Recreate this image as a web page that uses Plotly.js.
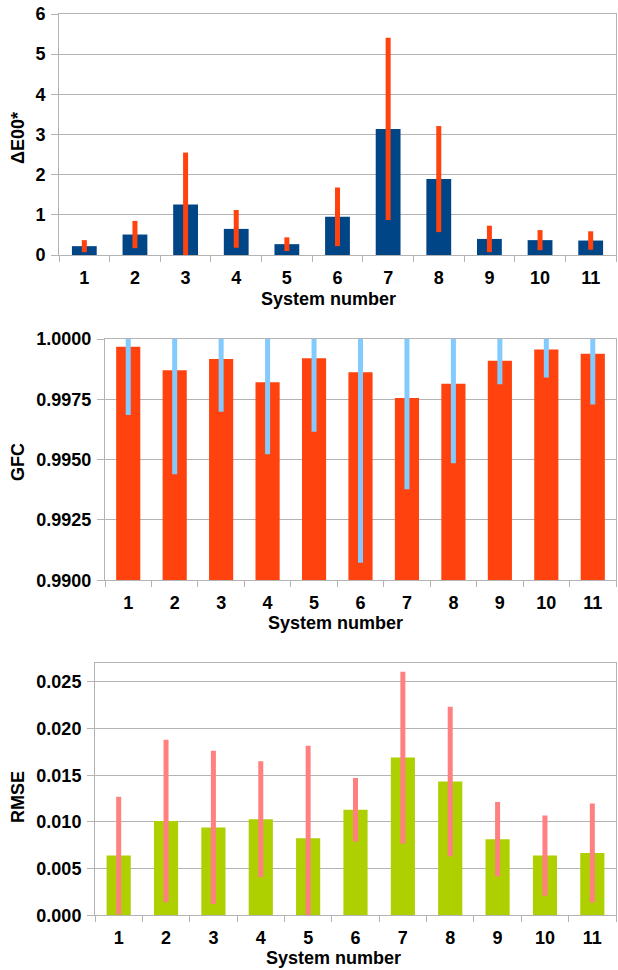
<!DOCTYPE html>
<html>
<head>
<meta charset="utf-8">
<script src="https://cdn.plot.ly/plotly-3.0.1.min.js"></script>
<style>
  html, body { margin: 0; padding: 0; background: #fff; }
  #chart { width: 618px; height: 970px; }
</style>
</head>
<body>
<div id="chart"></div>
<script>
const systems = ['1','2','3','4','5','6','7','8','9','10','11'];

const deltaE = [0.22, 0.51, 1.26, 0.65, 0.27, 0.95, 3.14, 1.89, 0.40, 0.37, 0.36];
const deltaEErr = [0.15, 0.34, 1.29, 0.47, 0.17, 0.73, 2.27, 1.32, 0.33, 0.25, 0.23];

const gfc = [0.99968, 0.99870, 0.99917, 0.99821, 0.99920, 0.99862, 0.99755, 0.99815, 0.99910, 0.99957, 0.99939];
const gfcErr = [0.00283, 0.00431, 0.00218, 0.00299, 0.00304, 0.00789, 0.00378, 0.00330, 0.00098, 0.00117, 0.00210];

const rmse = [0.0064, 0.0101, 0.00942, 0.0103, 0.00826, 0.0113, 0.0169, 0.01434, 0.00815, 0.0064, 0.00668];
const rmseErr = [0.0063, 0.0087, 0.0082, 0.0062, 0.0099, 0.0034, 0.0092, 0.0080, 0.0040, 0.0043, 0.0053];

const yTitles = ['ΔE00*', 'GFC', 'RMSE'];
const xTitle = 'System number';

const gridCol = '#b3b3b3';
const FAM = 'Liberation Sans, Arial, sans-serif';
const tickFont = {family: FAM, size: 18, color: '#000', weight: 'bold'};
const titleFont = {family: FAM, size: 18, color: '#000', weight: 'bold'};

function bar(y, err, xa, ya, color, ecolor, w) {
  return {
    type: 'bar', x: systems, y: y, xaxis: xa, yaxis: ya,
    width: w,
    marker: {color: color, line: {width: 0}},
    error_y: {type: 'data', array: err, visible: true, color: ecolor, thickness: 5, width: 0},
    hoverinfo: 'x+y', showlegend: false
  };
}

const data = [
  bar(deltaE, deltaEErr, 'x', 'y', '#004586', '#ff420e', 0.49),
  bar(gfc, gfcErr, 'x2', 'y2', '#ff420e', '#83caff', 0.52),
  bar(rmse, rmseErr, 'x3', 'y3', '#aecf00', '#ff8080', 0.51)
];

function xaxis(domain, anchor) {
  return {
    domain: domain, anchor: anchor, type: 'category',
    showline: true, mirror: true, linecolor: gridCol, linewidth: 1,
    showgrid: false, zeroline: false,
    ticks: 'outside', tickson: 'boundaries', ticklen: 6, tickcolor: gridCol, tickwidth: 1,
    tickfont: tickFont,
    ticklabelstandoff: 6
  };
}
function yaxis(domain, anchor, extra) {
  return Object.assign({
    domain: domain, anchor: anchor,
    showline: true, mirror: true, linecolor: gridCol, linewidth: 1,
    showgrid: true, gridcolor: gridCol, gridwidth: 1, zeroline: false,
    ticks: 'outside', ticklen: 7, tickcolor: gridCol, tickwidth: 1,
    tickfont: tickFont,
    ticklabelstandoff: 2
  }, extra);
}

const d1 = [1 - 255/970, 1 - 14/970];
const d2 = [1 - 580.3/970, 1 - 339/970];
const d3 = [1 - 915.3/970, 1 - 663.3/970];

function ytitle(text, yPix) {
  return {
    text: text, xref: 'paper', yref: 'paper',
    x: 18/618, y: 1 - yPix/970, xanchor: 'center', yanchor: 'middle',
    textangle: -90, showarrow: false, font: titleFont
  };
}
function xtitle(text, xPix, yPix) {
  return {
    text: text, xref: 'paper', yref: 'paper',
    x: xPix/618, y: 1 - yPix/970, xanchor: 'center', yanchor: 'middle',
    showarrow: false, font: titleFont
  };
}

const layout = {
  width: 618, height: 970,
  margin: {l: 0, r: 0, t: 0, b: 0},
  paper_bgcolor: '#fff', plot_bgcolor: '#fff',
  bargap: 0.5,
  xaxis: xaxis([59/618, 616/618], 'y'),
  yaxis: yaxis(d1, 'x', {range: [0, 6], dtick: 1, tick0: 0}),
  xaxis2: xaxis([105/618, 616/618], 'y2'),
  yaxis2: yaxis(d2, 'x2', {range: [0.99, 1.0], dtick: 0.0025, tick0: 0.99, tickformat: '.4f'}),
  xaxis3: xaxis([95/618, 616/618], 'y3'),
  yaxis3: yaxis(d3, 'x3', {range: [0, 0.027], tickvals: [0, 0.005, 0.01, 0.015, 0.02, 0.025], tickformat: '.3f'}),
  annotations: [
    ytitle(yTitles[0], 138),
    ytitle(yTitles[1], 462),
    ytitle(yTitles[2], 797),
    xtitle(xTitle, 328, 299),
    xtitle(xTitle, 335, 623),
    xtitle(xTitle, 333, 958)
  ]
};

Plotly.newPlot('chart', data, layout, {displayModeBar: false, staticPlot: true});
</script>
</body>
</html>
